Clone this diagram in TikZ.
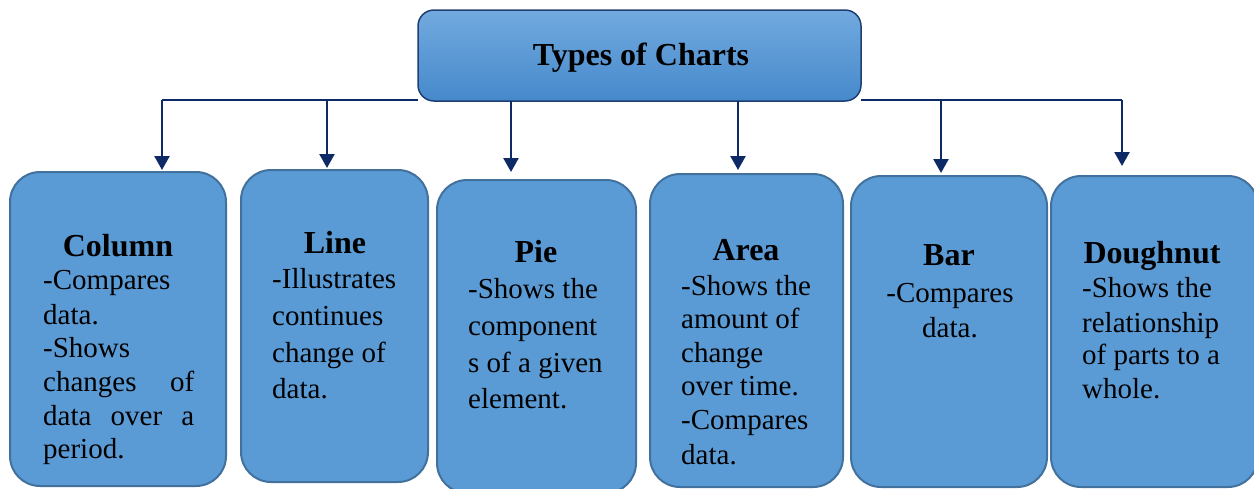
\documentclass[tikz,border=0pt]{standalone}
\usepackage{fontspec}
\setmainfont{Liberation Serif}
\usetikzlibrary{arrows.meta}
\definecolor{boxfill}{HTML}{5B9BD5}
\definecolor{boxline}{HTML}{41719C}
\definecolor{navy}{HTML}{0E2A66}
\definecolor{toptop}{HTML}{72AADF}
\definecolor{topbot}{HTML}{4689CB}
\definecolor{topline}{HTML}{1F3F73}
\tikzset{
  cbox/.style={draw=boxline, line width=2pt, fill=boxfill, rounded corners=30pt, inner sep=0pt, outer sep=0pt},
  tbox/.style={draw=topline, line width=1.5pt, top color=toptop, bottom color=topbot, rounded corners=16pt, inner sep=0pt, outer sep=0pt},
  conn/.style={draw=navy, line width=2.5pt},
  arr/.style={conn, -{Triangle[width=15pt,length=14pt]}},
  head/.style={anchor=base, inner sep=0pt, font=\fontsize{32}{36}\selectfont\bfseries},
  body/.style={anchor=base west, inner sep=0pt, font=\fontsize{29}{34}\selectfont},
  bodyc/.style={anchor=base, inner sep=0pt, font=\fontsize{29}{34}\selectfont},
}
\begin{document}
\begin{tikzpicture}[x=1pt,y=-1pt]
\useasboundingbox (0,0) rectangle (1254,488);
% boxes
\node[tbox, minimum width=443pt, minimum height=91pt] (top) at (639.5,55.5) {};
\node[head] (title) at (641,65) {Types of Charts};
\node[cbox, minimum width=216pt, minimum height=314pt] (col) at (118,329) {};
\node[cbox, minimum width=187pt, minimum height=312pt] (line) at (334.5,326) {};
\node[cbox, minimum width=199pt, minimum height=313pt] (pie) at (536.5,336.5) {};
\node[cbox, minimum width=193pt, minimum height=313pt] (area) at (746.5,330.5) {};
\node[cbox, minimum width=196pt, minimum height=311pt] (bar) at (949,331.5) {};
\node[cbox, minimum width=207pt, minimum height=311pt] (dough) at (1154.5,331.5) {};
% connectors
\coordinate (hl) at (162,100);
\coordinate (hr) at (1122,100);
\coordinate (jl) at (327,100);
\coordinate (jr) at (941,100);
\draw[conn] (top.west |- hl) -- (hl);
\draw[conn] (top.east |- hr) -- (hr);
\draw[arr] (hl) -- ([yshift=2pt]hl |- col.north);
\draw[arr] (jl) -- ([yshift=2pt]jl |- line.north);
\draw[arr] (511,101) -- (511,172);
\draw[arr] (738,101) -- ([yshift=4pt]738,174);
\draw[arr] (jr) -- ([yshift=3pt]jr |- bar.north);
\draw[arr] (hr) -- ([yshift=10pt]hr |- dough.north);
% Column
\node[head] (colh) at (118,256) {Column};
\node[body] (col1) at (43,289) {-Compares};
\node[body] (col2) at (43,324) {data.};
\node[body] (col3) at (43,357) {-Shows};
\node[body] (col4) at (43,391) {\hbox to 151pt{changes\hfill of}};
\node[body] (col5) at (43,425) {\hbox to 151pt{data\hfill over\hfill a}};
\node[body] (col6) at (43,458) {period.};
% Line
\node[head] (lineh) at (335,253) {Line};
\node[body] (line1) at (272,288) {-Illustrates};
\node[body] (line2) at (272,325) {continues};
\node[body] (line3) at (272,362) {change of};
\node[body] (line4) at (272,398) {data.};
% Pie
\node[head] (pieh) at (536,262) {Pie};
\node[body] (pie1) at (468,298) {-Shows the};
\node[body] (pie2) at (468,335) {component};
\node[body] (pie3) at (468,372) {s of a given};
\node[body] (pie4) at (468,408) {element.};
% Area
\node[head] (areah) at (746,260) {Area};
\node[body] (area1) at (681,295) {-Shows the};
\node[body] (area2) at (681,328) {amount of};
\node[body] (area3) at (681,362) {change};
\node[body] (area4) at (681,395) {over time.};
\node[body] (area5) at (681,429) {-Compares};
\node[body] (area6) at (681,464) {data.};
% Bar
\node[head] (barh) at (949,265) {Bar};
\node[bodyc] (bar1) at (950,302) {-Compares};
\node[bodyc] (bar2) at (950,337) {data.};
% Doughnut
\node[head] (doughh) at (1152,263) {Doughnut};
\node[body] (dough1) at (1082,297) {-Shows the};
\node[body] (dough2) at (1082,332) {relationship};
\node[body] (dough3) at (1082,364) {of parts to a};
\node[body] (dough4) at (1082,398) {whole.};
\end{tikzpicture}
\end{document}
